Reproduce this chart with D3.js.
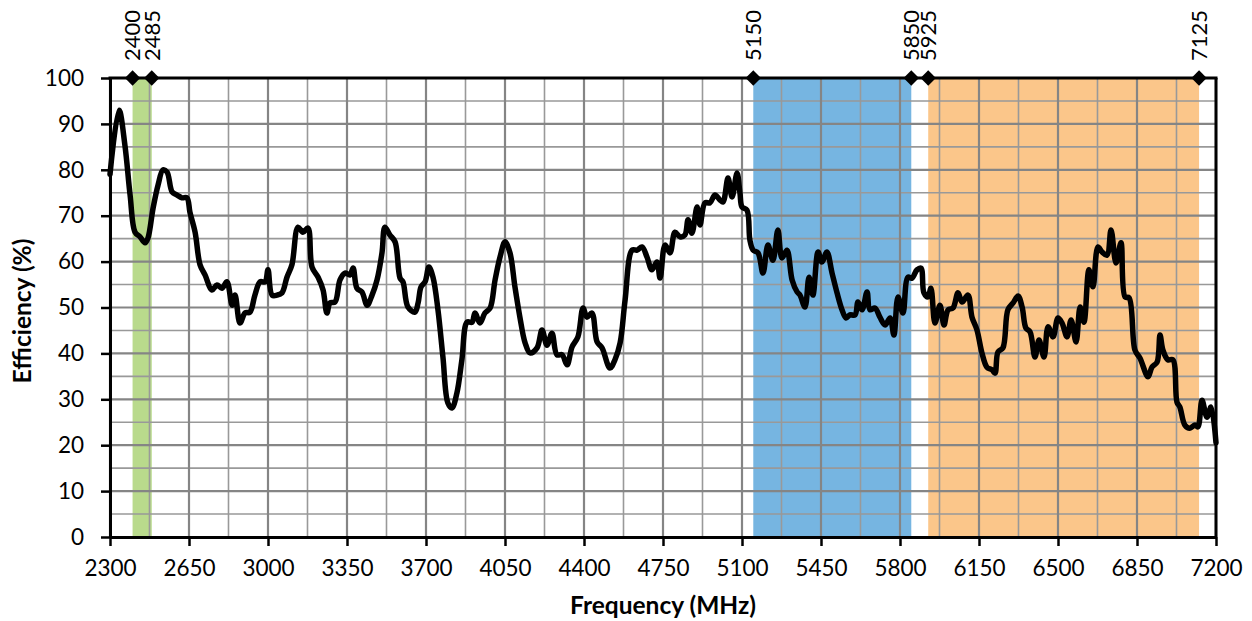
<!DOCTYPE html>
<html>
<head>
<meta charset="utf-8">
<script src="https://cdn.jsdelivr.net/npm/d3@7"></script>
<style>
  html, body { margin: 0; padding: 0; background: #ffffff; }
  svg { display: block; }
  text { font-family: Lato, "Open Sans", sans-serif; fill: #000; }
</style>
</head>
<body>
<svg id="chart" width="1252" height="621"></svg>
<script>
// ---------------- data ----------------
const freqMHz = [2300,2340,2366,2389,2411,2433,2455,2468,2491,2513,2535,2553,2575,2597,2619,2641,2654,2677,2699,2721,
  2752,2774,2796,2818,2841,2854,2876,2898,2920,2942,2965,2987,3000,3018,3040,3062,3084,3106,3133,3155,
  3177,3195,3222,3244,3261,3275,3297,3319,3341,3363,3377,3394,3416,3439,3461,3483,3505,3518,3540,3563,
  3585,3598,3620,3651,3665,3678,3696,3713,3731,3753,3775,3797,3815,3837,3859,3882,3904,3917,3939,3961,
  3984,4006,4028,4050,4072,4094,4116,4139,4161,4192,4214,4236,4258,4280,4303,4325,4347,4373,4396,4413,
  4435,4458,4480,4515,4537,4560,4582,4613,4635,4657,4679,4701,4723,4737,4759,4781,4803,4825,4847,4861,
  4878,4901,4914,4936,4958,4980,5003,5016,5038,5056,5078,5091,5100,5122,5135,5149,5171,5193,5215,5237,
  5259,5277,5299,5322,5344,5357,5379,5397,5414,5437,5454,5476,5499,5521,5543,5561,5578,5601,5614,5632,
  5654,5667,5689,5711,5734,5756,5773,5791,5813,5835,5853,5875,5893,5906,5924,5937,5955,5977,5995,6013,
  6035,6057,6075,6101,6119,6141,6163,6185,6208,6221,6234,6256,6278,6301,6323,6341,6358,6376,6398,6416,
  6438,6456,6478,6500,6518,6540,6558,6580,6598,6615,6637,6655,6677,6695,6717,6735,6757,6779,6797,6815,
  6841,6863,6899,6916,6939,6952,6965,6987,7009,7027,7040,7062,7084,7107,7120,7138,7160,7178,7200];
const efficiencyPct = [79,93,85.4,74.5,66.4,65.4,64.1,65.1,71.7,76.7,80.0,79.5,75.2,74.5,73.9,73.9,70.8,66.4,59.3,57.1,
  53.8,54.9,54.2,55.6,50.5,52.7,46.6,48.8,49.0,52.7,55.6,55.6,58.2,52.7,52.7,53.2,56.6,59.3,67.5,66.4,
  67.3,58.8,56.6,53.8,48.8,51.0,51.2,56.0,57.5,57.1,58.6,54.2,53.4,50.5,52.7,56.0,61.9,67.5,65.8,64.3,
  56.4,55.6,50.1,49.0,51.0,54.5,55.6,58.8,56.6,49.5,39.2,29.2,28.1,31.4,38.6,46.8,46.8,48.8,46.6,48.8,
  49.9,56.0,61.0,64.3,61.9,54.5,47.9,42.3,40.1,41.2,45.1,41.8,44.4,39.7,39.7,37.5,41.4,43.6,49.9,47.9,
  48.8,42.5,41.2,36.8,38.6,42.3,51.6,62.5,62.5,63.2,61.0,58.2,59.9,56.4,63.6,61.9,66.4,65.4,65.8,69.1,
  66.2,71.9,68.0,72.8,72.8,74.5,73.4,73.0,78.2,74.1,79.3,74.9,71.9,71.2,64.7,62.5,61.9,57.5,63.6,60.3,
  66.9,60.8,62.5,56.0,53.4,52.7,50.1,56.6,52.7,62.1,59.9,62.1,57.5,53.2,49.5,47.7,48.4,48.4,51.2,49.5,
  53.4,49.5,49.9,47.9,46.2,47.7,44.0,52.3,48.8,56.6,56.4,58.2,58.6,53.2,52.3,54.2,46.6,50.5,46.2,49.5,
  49.9,53.2,51.2,52.7,47.9,45.1,40.1,37.0,36.4,35.7,40.3,41.2,49.5,51.0,52.5,50.1,45.5,44.7,39.2,42.9,
  39.2,45.8,43.6,47.7,46.6,43.6,47.3,42.5,50.1,46.8,58.2,54.5,63.2,62.1,61.4,66.9,59.7,64.1,52.3,52.1,
  40.7,39.0,34.9,37.0,38.1,44.0,40.7,38.6,38.6,29.4,28.3,24.4,23.7,24.4,24.0,29.8,26.1,28.3,20.5];

const bandLow  = [2400, 5150, 5925];
const bandHigh = [2485, 5850, 7125];
const markerFreqs = [2400, 2485, 5150, 5850, 5925, 7125];
const markerLevel = 100;

const xTickValues = [2300, 2650, 3000, 3350, 3700, 4050, 4400, 4750, 5100, 5450, 5800, 6150, 6500, 6850, 7200];
const xMinorValues = [2475, 2825, 3175, 3525, 3875, 4225, 4575, 4925, 5275, 5625, 5975, 6325, 6675, 7025];
const yTickValues = [0, 10, 20, 30, 40, 50, 60, 70, 80, 90, 100];
const yMinorValues = [5, 15, 25, 35, 45, 55, 65, 75, 85, 95];

const xTitle = "Frequency (MHz)";
const yTitle = "Efficiency (%)";

// ---------------- layout ----------------
const bandColors = ["#b9da8c", "#76b5e1", "#fbc68a"];
const L = 110, R = 1216, T = 78, B = 537;

const svg = d3.select("#chart");
const x = d3.scaleLinear().domain([2300, 7200]).range([L, R]);
const y = d3.scaleLinear().domain([0, 100]).range([B, T]);

// bands
svg.append("g").selectAll("rect")
  .data(bandLow.map((lo, i) => ({lo, hi: bandHigh[i], i})))
  .join("rect")
  .attr("x", d => x(d.lo))
  .attr("y", y(100))
  .attr("width", d => x(d.hi) - x(d.lo))
  .attr("height", y(0) - y(100))
  .attr("fill", d => bandColors[d.i]);

// grid
const grid = svg.append("g");
grid.selectAll(".vmin").data(xMinorValues).join("line")
  .attr("x1", d => x(d)).attr("x2", d => x(d)).attr("y1", y(0)).attr("y2", y(100))
  .attr("stroke", "#999999").attr("stroke-width", 1.6);
grid.selectAll(".hmin").data(yMinorValues).join("line")
  .attr("x1", L).attr("x2", R).attr("y1", d => y(d)).attr("y2", d => y(d))
  .attr("stroke", "#999999").attr("stroke-width", 1.6);
grid.selectAll(".vmaj").data(xTickValues).join("line")
  .attr("x1", d => x(d)).attr("x2", d => x(d)).attr("y1", y(0)).attr("y2", y(100))
  .attr("stroke", "#858585").attr("stroke-width", 2.2);
grid.selectAll(".hmaj").data(yTickValues).join("line")
  .attr("x1", L).attr("x2", R).attr("y1", d => y(d)).attr("y2", d => y(d))
  .attr("stroke", "#858585").attr("stroke-width", 2.2);

// axes
const xAxis = d3.axisBottom(x).tickValues(xTickValues).tickSize(9).tickSizeOuter(0).tickPadding(14).tickFormat(d3.format("d"));
const yAxis = d3.axisLeft(y).tickValues(yTickValues).tickSize(9).tickSizeOuter(0).tickPadding(17).tickFormat(d3.format("d"));

const gx = svg.append("g").attr("transform", `translate(0,${B})`).call(xAxis);
const gy = svg.append("g").attr("transform", `translate(${L},0)`).call(yAxis);
[gx, gy].forEach(g => {
  g.select(".domain").attr("stroke", "#000").attr("stroke-width", 3);
  g.selectAll(".tick line").attr("stroke", "#000").attr("stroke-width", 2.5);
  g.selectAll(".tick text").style("font-family", "Lato, 'Open Sans', sans-serif").style("font-size", "22.5px").attr("fill", "#000");
});

// top and right frame lines
svg.append("line").attr("x1", L - 1.5).attr("x2", R + 1.5).attr("y1", y(100)).attr("y2", y(100))
  .attr("stroke", "#000").attr("stroke-width", 3);
svg.append("line").attr("x1", R).attr("x2", R).attr("y1", y(100)).attr("y2", y(0))
  .attr("stroke", "#000").attr("stroke-width", 3);

// efficiency curve
const line = d3.line()
  .x((d, i) => x(freqMHz[i]))
  .y(d => y(d))
  .curve(d3.curveCatmullRom.alpha(0.5));
svg.append("path")
  .datum(efficiencyPct)
  .attr("d", line)
  .attr("fill", "none")
  .attr("stroke", "#000")
  .attr("stroke-width", 5.5)
  .attr("stroke-linejoin", "round")
  .attr("stroke-linecap", "round");

// band edge markers
svg.append("g").selectAll("path")
  .data(markerFreqs).join("path")
  .attr("d", d3.symbol(d3.symbolSquare, 118))
  .attr("transform", d => `translate(${x(d)},${y(markerLevel)}) rotate(45)`)
  .attr("fill", "#000");

// rotated labels: glyph block centred on the marker (digit height ~0.72em)
const topFont = 22;
svg.append("g").selectAll("text")
  .data(markerFreqs).join("text")
  .attr("transform", d => `translate(${x(d) + topFont * 0.36},${y(markerLevel) - 17}) rotate(-90)`)
  .attr("text-anchor", "start")
  .style("font-size", topFont + "px")
  .text(d => d);

// axis titles
svg.append("text")
  .attr("x", 663).attr("y", 614)
  .attr("text-anchor", "middle")
  .style("font-size", "24.5px").style("font-weight", "bold")
  .text(xTitle);
svg.append("text")
  .attr("transform", `translate(31,${311}) rotate(-90)`)
  .attr("text-anchor", "middle")
  .style("font-size", "24.5px").style("font-weight", "bold")
  .text(yTitle);
</script>
</body>
</html>
